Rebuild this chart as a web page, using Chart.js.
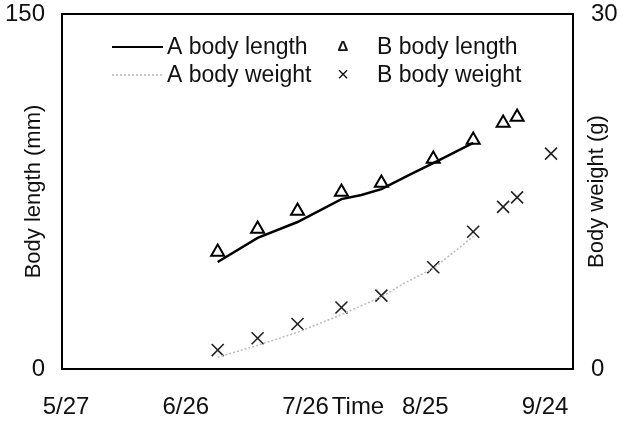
<!DOCTYPE html>
<html lang="en">
<head>
    <meta charset="UTF-8">
    <title>Body length and weight</title>
    <script src="https://cdn.jsdelivr.net/npm/chart.js@4"></script>
    <style>
      body { margin: 0; background: #fff; }
      #wrap { width: 631px; height: 421px; }
    </style>
</head>
<body>
    <div id="wrap"><canvas id="myChart" width="631" height="421"></canvas></div>

    <script>
      // days counted from 5/27
      const tickDays = [0, 30, 60, 90, 120];
      const tickLabels = ['5/27', '6/26', '7/26', '8/25', '9/24'];

      const aLengthDays = [38, 48, 58, 69, 74, 79, 86, 92, 102];
      const aLength = [45.2, 55.4, 62.1, 71.8, 73.5, 76, 82, 87, 95.5];

      const bLengthDays = [38, 48, 58, 69, 79, 92, 102, 109.5, 113];
      const bLength = [49.4, 59.2, 66.8, 74.8, 78.6, 88.7, 96.8, 103.9, 106.5];

      const aWeightDays = [38, 48, 58, 69, 79, 85, 92, 98, 102];
      const aWeight = [1.0, 2.0, 3.1, 4.6, 6.1, 7.3, 8.5, 10.1, 11.2];

      const bWeightDays = [38, 48, 58, 69, 79, 92, 102, 109.5, 113, 121.5];
      const bWeight = [1.6, 2.6, 3.8, 5.2, 6.2, 8.6, 11.6, 13.7, 14.5, 18.2];

      const tickFont = "'Liberation Sans', Arial, sans-serif";
      const textFont = "'Liberation Sans', Arial, sans-serif";

      const pts = (xs, ys) => xs.map((x, i) => ({ x: x, y: ys[i] }));

      // frame, right axis title, in-plot legend and the "Time" label
      const decor = {
        id: 'decor',
        afterDraw(chart) {
          const ctx = chart.ctx;
          const a = chart.chartArea;
          ctx.save();
          ctx.strokeStyle = '#000';
          ctx.lineWidth = 2;
          ctx.strokeRect(a.left, a.top, a.right - a.left, a.bottom - a.top);

          ctx.fillStyle = '#111';
          ctx.font = '22px ' + textFont;
          ctx.textAlign = 'center';
          ctx.textBaseline = 'middle';
          ctx.save();
          ctx.translate(597, (a.top + a.bottom) / 2);
          ctx.rotate(-Math.PI / 2);
          ctx.fillText('Body weight (g)', 0, 0);
          ctx.restore();

          ctx.font = '24px ' + tickFont;
          ctx.fillText('Time', 358, 407);

          // legend
          const rows = [47, 75];
          ctx.lineWidth = 2;
          ctx.strokeStyle = '#000';
          ctx.beginPath(); ctx.moveTo(112, rows[0]); ctx.lineTo(163, rows[0]); ctx.stroke();
          ctx.strokeStyle = '#bbb';
          ctx.lineWidth = 1.5;
          ctx.setLineDash([2, 2]);
          ctx.beginPath(); ctx.moveTo(112, rows[1]); ctx.lineTo(163, rows[1]); ctx.stroke();
          ctx.setLineDash([]);

          ctx.textAlign = 'left';
          ctx.font = '23px ' + textFont;
          ctx.fillText('A body length', 167, rows[0] + 1);
          ctx.fillText('A body weight', 167, rows[1] + 1);
          ctx.fillText('B body length', 377, rows[0] + 1);
          ctx.fillText('B body weight', 377, rows[1] + 1);
          ctx.textAlign = 'center';
          ctx.font = 'bold 15px ' + textFont;
          ctx.fillText('\u0394', 343, rows[0]);
          ctx.font = '20px ' + textFont;
          ctx.fillText('\u00d7', 343, rows[1]);
          ctx.restore();
        }
      };

      const noPadY = s => { s.paddingTop = 0; s.paddingBottom = 0; };

      const ctx = document.getElementById('myChart').getContext('2d');
      const myChart = new Chart(ctx, {
        type: 'scatter',
        data: {
          datasets: [
            {
              label: 'A body length',
              data: pts(aLengthDays, aLength),
              showLine: true,
              borderColor: '#000',
              borderWidth: 2.5,
              pointRadius: 0,
              yAxisID: 'y'
            },
            {
              label: 'A body weight',
              data: pts(aWeightDays, aWeight),
              showLine: true,
              borderColor: '#bbb',
              borderWidth: 1.5,
              borderDash: [2, 2],
              pointRadius: 0,
              yAxisID: 'y1'
            },
            {
              label: 'B body length',
              data: pts(bLengthDays, bLength),
              pointStyle: 'triangle',
              pointRadius: 7.5,
              pointBorderWidth: 2,
              borderColor: '#000',
              backgroundColor: 'rgba(255,255,255,0)',
              yAxisID: 'y'
            },
            {
              label: 'B body weight',
              data: pts(bWeightDays, bWeight),
              pointStyle: 'crossRot',
              pointRadius: 8.5,
              pointBorderWidth: 1.6,
              borderColor: '#222',
              yAxisID: 'y1'
            }
          ]
        },
        options: {
          responsive: false,
          animation: false,
          layout: { padding: { top: 14, left: 0, right: 0, bottom: 0 } },
          plugins: { legend: { display: false }, tooltip: { enabled: false } },
          scales: {
            x: {
              type: 'linear',
              min: -1,
              max: 127,
              grid: { display: false, drawTicks: false },
              border: { display: false },
              afterBuildTicks: s => { s.ticks = tickDays.map(v => ({ value: v })); },
              afterFit: s => { s.height = 52; s.paddingLeft = 0; s.paddingRight = 0; },
              ticks: {
                color: '#111',
                padding: 24,
                maxRotation: 0,
                autoSkip: false,
                font: { family: tickFont, size: 24 },
                callback: v => tickLabels[tickDays.indexOf(v)]
              }
            },
            y: {
              position: 'left',
              min: 0,
              max: 150,
              grid: { display: false, drawTicks: false },
              border: { display: false },
              afterFit: s => { s.width = 62; noPadY(s); },
              ticks: {
                stepSize: 150,
                color: '#111',
                padding: 17,
                font: { family: tickFont, size: 24 }
              },
              title: {
                display: true,
                text: 'Body length (mm)',
                color: '#111',
                padding: { top: 21 },
                font: { family: textFont, size: 22 }
              }
            },
            y1: {
              position: 'right',
              min: 0,
              max: 30,
              grid: { display: false, drawTicks: false },
              border: { display: false },
              afterFit: s => { s.width = 58; noPadY(s); },
              ticks: {
                stepSize: 30,
                color: '#111',
                padding: 18,
                font: { family: tickFont, size: 24 }
              }
            }
          }
        },
        plugins: [decor]
      });
    </script>
</body>
</html>
